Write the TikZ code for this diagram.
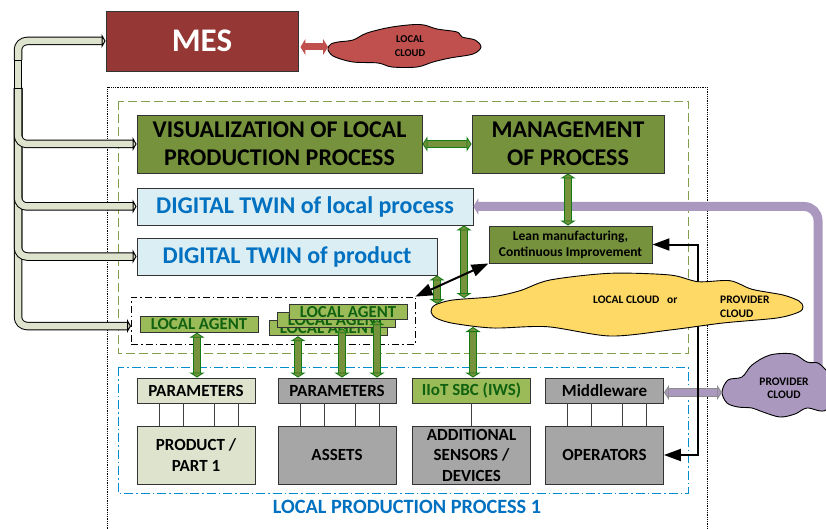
\documentclass[tikz,border=0pt]{standalone}
\usepackage{fontspec}
\setmainfont{Carlito}
\usetikzlibrary{arrows.meta}
\definecolor{mesred}{HTML}{953735}
\definecolor{cloudred}{HTML}{C0504D}
\definecolor{olivebox}{HTML}{76923C}
\definecolor{agentgreen}{HTML}{9BBB59}
\definecolor{arrowgreen}{HTML}{147A14}
\definecolor{palebox}{HTML}{DDE3CD}
\definecolor{twinblue}{HTML}{DAEEF3}
\definecolor{textblue}{HTML}{0070C0}
\definecolor{linkpurple}{HTML}{AA98BF}
\definecolor{cloudyellow}{HTML}{FFD966}
\tikzset{
	box/.style={draw=black!80,line width=0.9pt,inner sep=0pt,align=center,font=\bfseries},
	bigbox/.style={box,fill=olivebox,font=\fontsize{24}{28}\selectfont\bfseries},
	twinbox/.style={box,fill=twinblue,text=textblue,font=\fontsize{24}{28}\selectfont\bfseries},
	agentbox/.style={box,fill=agentgreen,text=arrowgreen!80!black,minimum width=118pt,minimum height=15.5pt,font=\fontsize{16.8}{16}\selectfont\bfseries},
	parambox/.style={box,minimum width=118pt,minimum height=25pt,font=\fontsize{17}{20}\selectfont\bfseries},
	unitbox/.style={box,minimum width=118pt,minimum height=58pt,font=\fontsize{17}{20.5}\selectfont\bfseries},
	wire/.style={draw=black!75,line width=0.8pt},
	cloudline/.style={draw=black,line width=0.9pt},
	cloudtext/.style={inner sep=0pt,align=center,font=\fontsize{11.5}{13.5}\selectfont\bfseries},
	fatgreen/.style={draw=arrowgreen,line width=0.9pt,double=olivebox,double distance=6.5pt,{Triangle[length=5pt,width=15pt,fill=olivebox]}-{Triangle[length=5pt,width=15pt,fill=olivebox]}},
	fatred/.style={draw=cloudred,line width=7pt,{Triangle[length=5pt,width=16pt]}-{Triangle[length=5pt,width=16pt]}},
	fatgrey/.style={draw=black!45,line width=0.9pt,double=linkpurple,double distance=6.5pt,{Triangle[length=5pt,width=15pt,fill=linkpurple]}-{Triangle[length=5pt,width=15pt,fill=linkpurple]}},
	tube/.style={draw=black,line width=1pt,double=palebox,double distance=6.5pt,rounded corners=9pt,-{Triangle[length=4pt,width=14pt,fill=palebox]}},
	blackline/.style={draw=black,line width=2pt,{Triangle[length=17pt,width=12pt]}-{Triangle[length=17pt,width=12pt]}},
}
\begin{document}
\begin{tikzpicture}[x=1pt,y=-1pt]
	\clip (0,0) rectangle (826,529);
	
	\draw[line width=0.8pt,densely dotted] (107,540) -- (107,87) -- (707,87) -- (707,540);
	\draw[agentgreen!85!black,line width=0.9pt,dash pattern=on 9pt off 4pt] (118,101) rectangle (688,353);
	\draw[textblue!80!cyan,line width=0.9pt,dash pattern=on 9pt off 3pt on 1.5pt off 3pt] (118,367) rectangle (688,493);
	
	\node[box,fill=mesred,text=white,minimum width=192pt,minimum height=60pt,font=\fontsize{33}{33}\selectfont\bfseries] (mes) at (202,41) {MES};
	\node[bigbox,minimum width=285pt,minimum height=58pt] (vis) at (279.5,144) {VISUALIZATION OF LOCAL\\PRODUCTION PROCESS};
	\node[bigbox,minimum width=192pt,minimum height=58pt] (mgmt) at (568,144) {MANAGEMENT\\OF PROCESS};
	\node[twinbox,minimum width=336pt,minimum height=37pt] (twinLocal) at (305,206.5) {DIGITAL TWIN of local process};
	\node[twinbox,minimum width=300pt,minimum height=37pt] (twinProduct) at (287,256.5) {DIGITAL TWIN of product};
	\node[box,fill=olivebox,minimum width=163pt,minimum height=37pt,font=\fontsize{13.5}{16}\selectfont\bfseries] (lean) at (570.5,244.5) {Lean manufacturing,\\Continuous Improvement};
	
	\node[draw=black,line width=0.8pt,dash pattern=on 7pt off 3pt on 1.5pt off 3pt,minimum width=284pt,minimum height=47pt,inner sep=0pt] (agents) at (273,320.5) {};
	\node[agentbox] (agentA) at (199,324.5) {LOCAL AGENT};
	\node[agentbox] (agentLow) at (328,328) {LOCAL AGENT};
	\node[agentbox] (agentMid) at (336,320) {LOCAL AGENT};
	\node[agentbox] (agentTop) at (348,312) {LOCAL AGENT};
	
	\node[parambox,fill=palebox] (paramA) at (196,390.5) {PARAMETERS};
	\node[parambox,fill=black!35] (paramB) at (337,390.5) {PARAMETERS};
	\node[parambox,fill=agentgreen,text=arrowgreen!80!black] (iiot) at (471.5,390.5) {IIoT SBC (IWS)};
	\node[parambox,fill=black!35] (middle) at (604.5,390.5) {Middleware};
	\node[unitbox,fill=palebox] (product) at (196,455) {PRODUCT /\\PART 1};
	\node[unitbox,fill=black!35] (assets) at (337,455) {ASSETS};
	\node[unitbox,fill=black!35] (sensors) at (471.5,455) {ADDITIONAL\\SENSORS /\\DEVICES};
	\node[unitbox,fill=black!35] (operators) at (604.5,455) {OPERATORS};
	\node[inner sep=0pt,text=textblue,font=\fontsize{20.3}{20}\selectfont\bfseries] (title) at (407,507) {LOCAL PRODUCTION PROCESS 1};
	
	\foreach \dx in {-37,-13,18,42} {
		\draw[wire] ([xshift=\dx pt]paramA.south) -- ([xshift=\dx pt]product.north);
		\draw[wire] ([xshift=\dx pt]paramB.south) -- ([xshift=\dx pt]assets.north);
		\draw[wire] ([xshift=\dx pt]middle.south) -- ([xshift=\dx pt]operators.north);
	}
	\draw[wire] (iiot.south) -- (sensors.north);
	
	\coordinate (busTop) at (18,60);
	\coordinate (busMid) at (18,88);
	\coordinate (agentIn) at (131,326);
	\draw[tube] (busMid) |- (agentIn);
	\draw[tube] (busMid) |- (twinProduct.west);
	\draw[tube] (busMid) |- (twinLocal.west);
	\draw[tube] (busMid) |- (vis.west);
	\draw[tube] (busTop) |- (mes.west);
	\draw[draw=black,line width=1pt,double=palebox,double distance=6.5pt] (busTop) -- (busMid);
	\draw[line width=0.8pt] (14,60) -- (22,60);
	\draw[line width=0.8pt] (14,88) -- (22,88);
	
	\coordinate (blackTurn) at (698,350);
	\draw[blackline] (lean.east) -- (blackTurn |- lean.east) -- (blackTurn |- operators.east) -- (operators.east);
	
	% clouds
	\draw[cloudline,fill=cloudred] plot[smooth cycle,tension=0.55] coordinates {(328,48) (331,44) (338,42) (353,40) (367,33) (392,27) (420,24.5) (437,29) (457,32) (462,37) (475,40) (481,47) (473,54) (450,58) (433,62) (417,67) (392,67) (378,63) (353,62) (335,57) (329,52)};
	\node[cloudtext,font=\fontsize{10.5}{13.5}\selectfont\bfseries] (localCloud) at (410,46) {LOCAL\\CLOUD};
	\coordinate (localTip) at (328,47);
	\draw[fatred] (mes.east |- localTip) ++(2,0) -- (localTip);
	
	\draw[draw=linkpurple,line width=9pt,rounded corners=14pt,-{Triangle[length=5pt,width=17pt]}] (818,365) |- (twinLocal.east);
	
	\draw[cloudline,fill=linkpurple] plot[smooth cycle,tension=0.55] coordinates {(722,392) (728,380) (742,377) (752,365) (770,355) (793,354) (807,362) (818,363) (826,370) (840,385) (826,410) (807,408) (795,414) (780,417) (763,412) (752,408) (738,407) (727,403)};
	\node[cloudtext] (providerCloud) at (784,388.5) {PROVIDER\\CLOUD};
	\coordinate (providerTip) at (722,392.5);
	\draw[fatgrey] (middle.east |- providerTip) -- (providerTip);
	\draw[draw=black,line width=2pt] (blackTurn |- middle.north) -- (blackTurn |- middle.south);
	
	\draw[cloudline,fill=cloudyellow] plot[smooth cycle,tension=0.5] coordinates {(431,311.7) (435,305) (453,300) (493,296.7) (520,290.7) (550,280) (610,273.3) (670,275) (698,281.7) (730,280.7) (752,289.3) (783,295) (799,301) (803,306.7) (799,312) (777,318) (723,323) (670,330) (610,336) (547,326.7) (493,328) (453,323.3) (436,318)};
	\node[cloudtext,anchor=west] (yellowLeft) at (593,300) {LOCAL CLOUD\ \ \ or};
	\node[cloudtext,anchor=west,align=left] (yellowRight) at (720,307) {PROVIDER\\CLOUD};
	\coordinate (cloudProduct) at (437,304);
	\coordinate (cloudTwin) at (464,298);
	\coordinate (cloudIiot) at (473,327);
	
	\draw[fatgreen] (vis.east) -- (mgmt.west);
	\draw[fatgreen] (mgmt.south) -- (mgmt.south |- lean.north);
	\draw[fatgreen] (cloudTwin |- twinLocal.south) -- (cloudTwin);
	\draw[fatgreen] (cloudProduct |- twinProduct.south) -- (cloudProduct);
	\draw[fatgreen] (cloudIiot) -- (cloudIiot |- iiot.north);
	\draw[fatgreen] ([xshift=-2pt]agentA.south) -- ([xshift=1pt]paramA.north);
	\draw[fatgreen] ([xshift=-30pt]agentLow.south) -- ([xshift=-39pt]paramB.north);
	\draw[fatgreen] ([xshift=6pt]agentMid.south) -- ([xshift=5pt]paramB.north);
	\draw[fatgreen] ([xshift=29pt]agentTop.south) -- ([xshift=40pt]paramB.north);
	\draw[blackline] (agents.north east) -- (lean.south west);
\end{tikzpicture}
\end{document}
